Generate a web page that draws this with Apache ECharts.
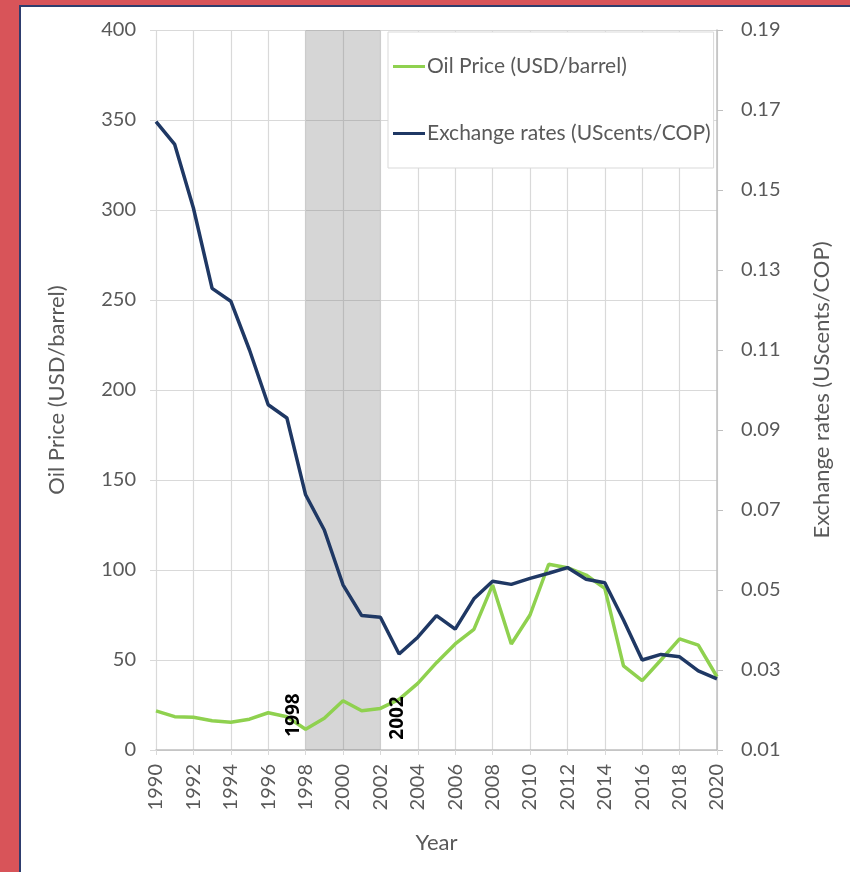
<!DOCTYPE html>
<html>
<head>
<meta charset="utf-8">
<script src="https://cdn.jsdelivr.net/npm/echarts@6/dist/echarts.min.js"></script>
<style>
  html, body { margin: 0; padding: 0; width: 850px; height: 872px; overflow: hidden; background: #d85459; }
  .panel { position: absolute; left: 19px; top: 5px; width: 840px; height: 880px; background: #fff;
           border-left: 2px solid #2e3d6e; border-top: 2px solid #2e3d6e; }
  #chart { position: absolute; left: 0; top: 0; width: 850px; height: 872px; }
</style>
</head>
<body>
<div class="panel"></div>
<div id="chart"></div>
<script>
// years 1990-2020
const years = [1990,1991,1992,1993,1994,1995,1996,1997,1998,1999,2000,2001,2002,2003,2004,2005,
  2006,2007,2008,2009,2010,2011,2012,2013,2014,2015,2016,2017,2018,2019,2020];
// oil price, USD/barrel (left axis)
const oilPrice = [21.7,18.5,18.2,16.3,15.4,17.1,20.7,18.5,11.5,17.6,27.4,21.8,23.1,28.1,37.0,48.5,
  58.9,67.0,91.7,58.9,75.0,103.2,101.3,97.2,89.8,46.7,38.5,50.0,61.7,58.3,40.7];
// exchange rate, UScents/COP (right axis)
const exchRate = [0.1671,0.1614,0.1455,0.1254,0.1222,0.110,0.0963,0.093,0.0738,0.065,0.0513,0.0436,
  0.0432,0.034,0.0382,0.0436,0.0402,0.0478,0.0522,0.0514,0.0529,0.0542,0.0556,0.0527,0.0518,
  0.0425,0.0325,0.0339,0.0333,0.0298,0.0278];
// shaded period
const shadeFrom = 1998, shadeTo = 2002;

const font = 'Lato';
const grey = '#595959';
const myEchart = echarts.init(document.getElementById('chart'));
const option = {
  animation: false,
  textStyle: { fontFamily: font },
  grid: { left: 156, right: 133, top: 30, bottom: 122 },
  legend: {
    orient: 'vertical',
    left: 388, top: 32,
    padding: [24, 3, 24, 5],
    itemGap: 46,
    itemWidth: 32, itemHeight: 3,
    icon: 'rect',
    backgroundColor: '#fff',
    borderColor: '#d9d9d9', borderWidth: 1, borderRadius: 0,
    textStyle: { fontFamily: font, fontSize: 21, color: grey, padding: [0, 0, 0, -3] },
    data: ['Oil Price (USD/barrel)', 'Exchange rates (UScents/COP)']
  },
  xAxis: {
    type: 'value', min: 1990, max: 2020, interval: 2,
    name: 'Year', nameLocation: 'middle', nameGap: 82,
    nameTextStyle: { fontFamily: font, fontSize: 22, color: grey },
    axisLine: { lineStyle: { color: '#bfbfbf', width: 1.5 } },
    axisTick: { show: true, length: 5, lineStyle: { color: '#d9d9d9' } },
    axisLabel: { rotate: 90, margin: 14, fontSize: 20, color: grey, fontFamily: font,
      formatter: v => String(v) },
    splitLine: { show: true, lineStyle: { color: '#d9d9d9', width: 1.2 } }
  },
  yAxis: [
    {
      type: 'value', min: 0, max: 400, interval: 50,
      name: 'Oil Price (USD/barrel)', nameLocation: 'middle', nameRotate: 90, nameGap: 88,
      nameTextStyle: { fontFamily: font, fontSize: 22, color: grey },
      axisLine: { show: false },
      axisTick: { show: true, length: 6, lineStyle: { color: '#d9d9d9' } },
      axisLabel: { margin: 20, fontSize: 20, color: grey, fontFamily: font },
      splitLine: { show: true, lineStyle: { color: '#d9d9d9', width: 1.2 } }
    },
    {
      type: 'value', min: 0.01, max: 0.19, interval: 0.02, position: 'right',
      name: 'Exchange rates (UScents/COP)', nameLocation: 'middle', nameRotate: 90, nameGap: 94,
      nameTextStyle: { fontFamily: font, fontSize: 22, color: grey },
      axisLine: { show: true, lineStyle: { color: '#bfbfbf', width: 1.5 } },
      axisTick: { show: true, length: 6, lineStyle: { color: '#bfbfbf' } },
      axisLabel: { margin: 24, fontSize: 20, color: grey, fontFamily: font,
        formatter: v => v.toFixed(2) },
      splitLine: { show: false }
    }
  ],
  series: [
    {
      name: 'Oil Price (USD/barrel)',
      type: 'line',
      yAxisIndex: 0,
      symbol: 'none',
      color: '#8fd14f',
      lineStyle: { width: 3.5, color: '#8fd14f' },
      data: years.map((y, i) => [y, oilPrice[i]]),
      z: 3,
      markArea: {
        silent: true,
        itemStyle: { color: 'rgba(120,120,120,0.3)' },
        data: [[{ xAxis: shadeFrom }, { xAxis: shadeTo }]]
      },
      markPoint: {
        symbolSize: 0,
        label: { show: true, rotate: 90, fontFamily: 'Open Sans', fontWeight: 'bold', fontSize: 19,
          color: '#000', formatter: p => p.name },
        // offsets are in the rotated label frame
        data: [
          { name: String(shadeFrom), coord: [shadeFrom, 0], label: { offset: [35, -12] } },
          { name: String(shadeTo), coord: [shadeTo, 0], label: { offset: [32, 17] } }
        ]
      }
    },
    {
      name: 'Exchange rates (UScents/COP)',
      type: 'line',
      yAxisIndex: 1,
      symbol: 'none',
      color: '#1f3864',
      lineStyle: { width: 3.5, color: '#1f3864' },
      data: years.map((y, i) => [y, exchRate[i]]),
      z: 4
    }
  ]
};
myEchart.setOption(option);
</script>
</body>
</html>
